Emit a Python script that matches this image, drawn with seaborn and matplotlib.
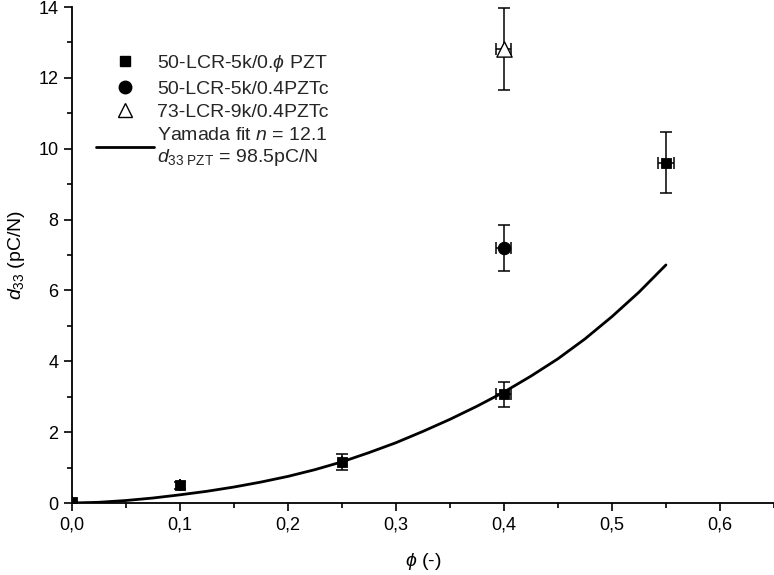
import numpy as np
import pandas as pd
import seaborn as sns
from matplotlib import pyplot as plt
from matplotlib.lines import Line2D
from matplotlib.ticker import MultipleLocator, FuncFormatter

sq_phi = [0.0, 0.1, 0.25, 0.4, 0.55]
sq_d33 = [0.03, 0.5, 1.15, 3.07, 9.6]
sq_yerr = [0.0, 0.1, 0.22, 0.35, 0.86]
sq_xerr = [0.0, 0.0, 0.0, 0.007, 0.007]

circ_phi = [0.4]
circ_d33 = [7.2]
circ_yerr = [0.64]
circ_xerr = [0.007]

tri_phi = [0.4]
tri_d33 = [12.82]
tri_yerr = [1.15]
tri_xerr = [0.007]

# Yamada fit curve
fit_phi = [0.0, 0.025, 0.05, 0.075, 0.1, 0.125, 0.15, 0.175, 0.2, 0.225, 0.25, 0.275,
           0.3, 0.325, 0.35, 0.375, 0.4, 0.425, 0.45, 0.475, 0.5, 0.525, 0.55]
fit_d33 = [0.0, 0.02, 0.07, 0.14, 0.23, 0.33, 0.45, 0.59, 0.75, 0.94, 1.16, 1.42,
           1.70, 2.02, 2.36, 2.73, 3.13, 3.58, 4.07, 4.63, 5.26, 5.95, 6.72]

labels = ['50-LCR-5k/0.$\\phi$ PZT', '50-LCR-5k/0.4PZTc', '73-LCR-9k/0.4PZTc',
          'Yamada fit $n$ = 12.1\n$d_{33\\ \\mathrm{PZT}}$ = 98.5pC/N']

sns.set_style('ticks')
plt.rcParams['font.family'] = ['Liberation Sans', 'DejaVu Sans']
plt.rcParams['mathtext.fontset'] = 'custom'
plt.rcParams['mathtext.rm'] = 'Liberation Sans'
plt.rcParams['mathtext.it'] = 'Liberation Sans:italic'

fig = plt.figure(figsize=(7.74, 5.75), dpi=100)
ax = fig.add_axes([0.0925, 0.1252, 0.9075, 0.8626])

fit = pd.DataFrame({'phi': fit_phi, 'd33': fit_d33})
sns.lineplot(data=fit, x='phi', y='d33', color='black', lw=2, ax=ax, zorder=2)

err_kw = dict(fmt='none', ecolor='black', elinewidth=1.1, capsize=4, capthick=1.1, zorder=3)
ax.errorbar(sq_phi, sq_d33, yerr=sq_yerr, xerr=sq_xerr, **err_kw)
ax.errorbar(circ_phi, circ_d33, yerr=circ_yerr, xerr=circ_xerr, **err_kw)
ax.errorbar(tri_phi, tri_d33, yerr=tri_yerr, xerr=tri_xerr, **err_kw)

sns.scatterplot(x=sq_phi, y=sq_d33, marker='s', s=55, color='black', edgecolor='black', ax=ax, zorder=4)
sns.scatterplot(x=circ_phi, y=circ_d33, marker='o', s=80, color='black', edgecolor='black', ax=ax, zorder=4)
sns.scatterplot(x=tri_phi, y=tri_d33, marker='^', s=120, color='white', edgecolor='black',
                linewidth=1, ax=ax, zorder=4)

ax.set_xlim(0, 0.65)
ax.set_ylim(0, 14)
ax.xaxis.set_major_locator(MultipleLocator(0.1))
ax.xaxis.set_minor_locator(MultipleLocator(0.05))
ax.yaxis.set_major_locator(MultipleLocator(2))
ax.yaxis.set_minor_locator(MultipleLocator(1))
ax.xaxis.set_major_formatter(FuncFormatter(lambda v, p: f'{v:.1f}'.replace('.', ',')))
ax.tick_params(which='major', length=6, width=1.2, labelsize=13, color='black', labelcolor='black')
ax.tick_params(which='minor', length=3.5, width=1.2, color='black')
sns.despine(ax=ax)
for s in ['left', 'bottom']:
    ax.spines[s].set_linewidth(1.3)
    ax.spines[s].set_color('black')

ax.set_xlabel('$\\phi$ (-)', fontsize=14, labelpad=13, color='black')
ax.set_ylabel('$d_{33}$ (pC/N)', fontsize=14, labelpad=8, color='black')

handles = [
    Line2D([], [], ls='none', marker='s', ms=7, color='black'),
    Line2D([], [], ls='none', marker='o', ms=9, color='black'),
    Line2D([], [], ls='none', marker='^', ms=10, mfc='white', mec='black', mew=1),
    Line2D([], [], color='black', lw=2),
]
ax.legend(handles, labels, loc='upper left', bbox_to_anchor=(0.01, 0.942), frameon=False,
          fontsize=14, handlelength=3.0, handletextpad=0.15, labelspacing=0.3)

fig.savefig('out.png', dpi=100)
